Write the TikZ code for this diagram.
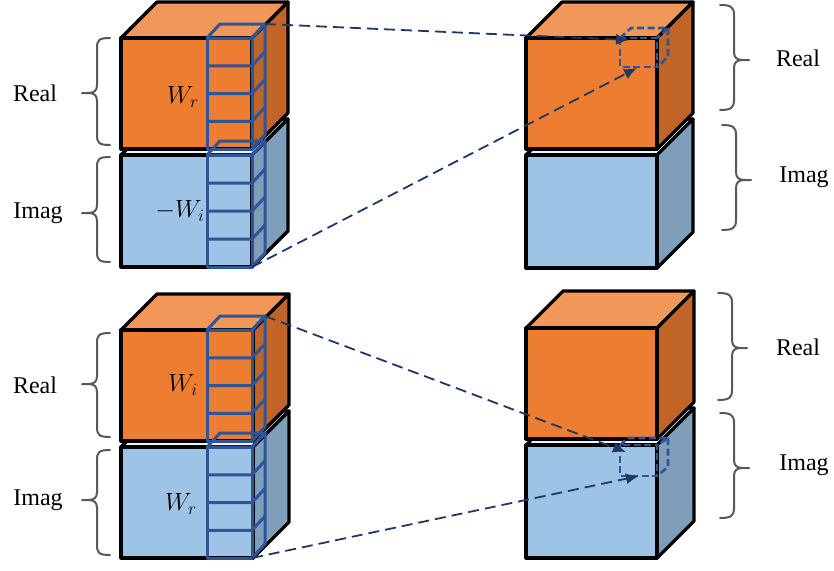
\documentclass[tikz,border=0pt]{standalone}
\usepackage{fontspec}
\setmainfont{Liberation Serif}
\usetikzlibrary{arrows.meta}
\definecolor{ofront}{HTML}{ED7D31}
\definecolor{otop}{HTML}{F1975A}
\definecolor{oside}{HTML}{C06428}
\definecolor{bfront}{HTML}{9DC3E6}
\definecolor{btop}{HTML}{EEF4FA}
\definecolor{bside}{HTML}{7F9EB9}
\definecolor{colblue}{HTML}{2F5597}
\definecolor{navy}{HTML}{1F3864}
\definecolor{bracegray}{HTML}{595959}
\tikzset{
  cubeedge/.style={draw=black,line width=3.2pt,line join=round},
  coledge/.style={draw=colblue,line width=3pt,line join=round},
  smallcube/.style={draw=colblue,line width=2.6pt,dash pattern=on 7pt off 3.5pt,line join=round},
  flow/.style={draw=navy,line width=1.8pt,dash pattern=on 11pt off 6pt,-{Latex[length=13pt,width=11pt]}},
  bracestyle/.style={draw=bracegray,line width=2pt,line cap=round},
  lab/.style={font=\fontsize{24}{28}\selectfont,inner sep=0pt},
  mlab/.style={font=\fontsize{24}{28}\selectfont,inner sep=0pt}
}
% #1 x, #2 y (front top-left), #3 height, #4 front, #5 top, #6 side, #7 width, #8 depth
\newcommand\drawcube[8]{%
  \path[cubeedge,fill=#5] (#1,#2) -- ++(#8,-#8) -- ++(#7,0) -- ++(-#8,#8) -- cycle;
  \path[cubeedge,fill=#6] (#1+#7,#2) -- ++(#8,-#8) -- ++(0,#3) -- ++(-#8,#8) -- cycle;
  \path[cubeedge,fill=#4] (#1,#2) rectangle ++(#7,#3);
}
% column: #1 y top of front, #2 cell height
\newcommand\drawcolumn[2]{%
  \path[coledge] (207,#1) -- ++(13,-14) -- ++(45,0) -- ++(-13,14) -- cycle;
  \path[coledge] (252,#1) -- ++(13,-14) -- ++(0,4*#2) -- ++(-13,14);
  \path[coledge] (207,#1) rectangle ++(45,4*#2);
  \foreach \k in {1,2,3} {
    \path[coledge] (207,#1+\k*#2) -- ++(45,0) -- ++(13,-14);
  }
}
% left brace: #1 top y, #2 bottom y, #3 tip y
\newcommand\leftbrace[3]{%
  \path[bracestyle] (110,#1) .. controls (99,#1) and (97,#1+2) .. (97,#1+10)
     -- (97,#3-8) .. controls (97,#3-2) and (94,#3) .. (88,#3) -- (82,#3);
  \path[bracestyle] (110,#2) .. controls (99,#2) and (97,#2-2) .. (97,#2-10)
     -- (97,#3+8) .. controls (97,#3+2) and (94,#3) .. (88,#3);
}
% right brace: #1 top, #2 bottom, #3 tip, #4 hook x
\newcommand\rightbrace[4]{%
  \path[bracestyle] (#4,#1) .. controls (#4+11,#1) and (#4+14,#1+2) .. (#4+14,#1+10)
     -- (#4+14,#3-8) .. controls (#4+14,#3-2) and (#4+17,#3) .. (#4+23,#3) -- (#4+29,#3);
  \path[bracestyle] (#4,#2) .. controls (#4+11,#2) and (#4+14,#2-2) .. (#4+14,#2-10)
     -- (#4+14,#3+8) .. controls (#4+14,#3+2) and (#4+17,#3) .. (#4+23,#3);
}
\begin{document}
\begin{tikzpicture}[x=1pt,y=-1pt]
\useasboundingbox (0,0) rectangle (834,570);
% ---------- top left ----------
\drawcube{121}{155}{112}{bfront}{btop}{bside}{131}{36}
\drawcube{121}{38}{111}{ofront}{otop}{oside}{131}{36}
\drawcolumn{38}{27.75}
\drawcolumn{155}{28}
\node[mlab] (wr1) at (183,97) {$W_r$};
\node[mlab] (wi1) at (180,211) {$-W_i$};
% ---------- top right ----------
\drawcube{526}{155}{113}{bfront}{btop}{bside}{131}{36}
\drawcube{526}{38}{111}{ofront}{otop}{oside}{131}{36}
\path[smallcube] (620,38) rectangle (657,67);
\path[smallcube] (620,38) -- ++(11,-10) -- (668,28) -- (657,38);
\path[smallcube] (668,28) -- (668,57) -- (657,67);
% ---------- bottom left ----------
\drawcube{121}{447}{111}{bfront}{btop}{bside}{132}{36}
\drawcube{121}{330}{111}{ofront}{otop}{oside}{132}{36}
\drawcolumn{330}{27.75}
\drawcolumn{447}{27.75}
\node[mlab] (wi2) at (183,385) {$W_i$};
\node[mlab] (wr2) at (181,504) {$W_r$};
% ---------- bottom right ----------
\drawcube{526}{445}{113}{bfront}{btop}{bside}{131}{37}
\drawcube{526}{328}{111}{ofront}{otop}{oside}{131}{37}
\path[smallcube] (620,445) rectangle (657,476);
\path[smallcube] (620,445) -- ++(8,-7) -- (668,438) -- (657,445);
\path[smallcube] (668,438) -- (668,467) -- (657,476);
% ---------- connector end points ----------
\coordinate (s1) at (265,24);
\coordinate (t1) at (629,40);
\coordinate (s2) at (252,267);
\coordinate (t2) at (637,68);
\coordinate (s3) at (265,316);
\coordinate (t3) at (626,452);
\coordinate (s4) at (252,558);
\coordinate (t4) at (639,476);
\draw[flow] (s1) -- (t1);
\draw[flow] (s2) -- (t2);
\draw[flow] (s3) -- (t3);
\draw[flow] (s4) -- (t4);
% ---------- braces ----------
\leftbrace{38}{145}{93}
\leftbrace{157}{262}{213}
\leftbrace{333}{437}{384}
\leftbrace{450}{555}{500}
\rightbrace{5}{110}{60}{720}
\rightbrace{125}{230}{180}{722}
\rightbrace{293}{400}{348}{718}
\rightbrace{413}{518}{468}{720}
% ---------- labels ----------
\node[lab] (r1) at (35,93) {Real};
\node[lab] (i1) at (38,213) {Imag};
\node[lab] (r2) at (35,385) {Real};
\node[lab] (i2) at (38,500) {Imag};
\node[lab] (r3) at (798,58) {Real};
\node[lab] (i3) at (804,177) {Imag};
\node[lab] (r4) at (798,347) {Real};
\node[lab] (i4) at (804,465) {Imag};
\end{tikzpicture}
\end{document}
